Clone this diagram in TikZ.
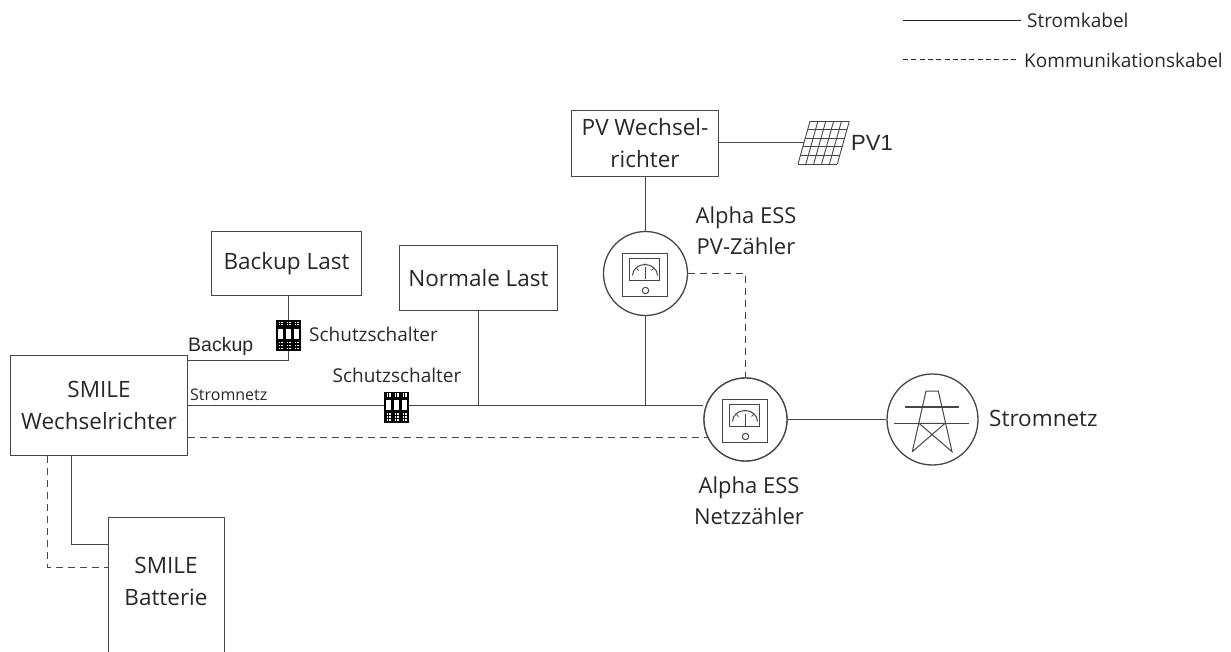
\documentclass[tikz,border=0pt]{standalone}
\usepackage{fontspec}
\setmainfont{Open Sans}
\newfontfamily\arialf{Liberation Sans}
\definecolor{ln}{RGB}{70,70,70}
\definecolor{tx}{RGB}{40,40,40}
\tikzset{
  x=1pt,y=-1pt,
  boxn/.style={draw=ln,line width=1.3pt,fill=white,inner sep=0pt,text=tx,align=center,font=\fontsize{22.5}{32}\selectfont},
  ringn/.style={draw=ln,line width=1.3pt,fill=white,circle,inner sep=0pt},
  lab/.style={text=tx,align=center,inner sep=0pt,font=\fontsize{22}{31}\selectfont},
  smalllab/.style={text=tx,inner sep=0pt,font=\fontsize{19}{22}\selectfont},
  tinylab/.style={text=tx,inner sep=0pt,font=\fontsize{16}{18}\selectfont},
  legendlab/.style={text=tx,inner sep=0pt,font=\fontsize{19}{22}\selectfont},
  wire/.style={draw=ln,line width=1.3pt},
  comm/.style={draw=ln,line width=1.3pt,dash pattern=on 7pt off 5pt},
  pics/meter/.style={code={
    \draw[ln,line width=1pt] (-23,-20) rectangle (22,23);
    \draw[ln,line width=1pt] (-16,-15) rectangle (14,7);
    \draw[ln,line width=1pt] (-13,2) arc[start angle=180,end angle=0,x radius=12.5,y radius=-11];
    \draw[ln,line width=.9pt] (-0.5,-6) -- (-0.5,6);
    \draw[ln,line width=.9pt] (-9,-5) -- (-7,-3) (8,-5) -- (6,-3) (-0.5,-10) -- (-0.5,-8);
    \draw[ln,line width=1pt] (0,17) circle[radius=3.2];
  }},
  pics/breaker/.style={code={
    \fill[black] (-12.5,-15.5) rectangle (12.5,15.5);
    \foreach \bx in {-8,0,8} {
      \fill[white] (\bx-2.4,-7) rectangle (\bx+2.4,3);
      \foreach \by in {-13,-11,7,10,13} \fill[white] (\bx-2,\by-.7) rectangle (\bx-.4,\by+.7);
      \foreach \by in {-13,-11,7,10,13} \fill[white] (\bx+.6,\by-.7) rectangle (\bx+2.2,\by+.7);
    }
  }}
}
\begin{document}
\begin{tikzpicture}
\useasboundingbox (0,0) rectangle (1231,652);
\fill[white] (0,0) rectangle (1231,652);
\coordinate (legAa) at (903,20.5);
\coordinate (legAb) at (1021,20.5);
\coordinate (legBa) at (903,59.5);
\coordinate (legBb) at (1019,59.5);
\coordinate (jn1) at (478.5,405.5);
\coordinate (jn2) at (645.5,405.5);
\node[boxn,minimum width=177pt,minimum height=100pt] (smile) at (99,405.5) {SMILE\\Wechselrichter};
\node[boxn,minimum width=150pt,minimum height=64pt] (backup) at (286.5,263.5) {Backup Last};
\node[boxn,minimum width=158pt,minimum height=65pt] (normal) at (478.5,278) {Normale Last};
\node[boxn,minimum width=147pt,minimum height=66pt] (pvinv) at (645,143.5) {PV Wechsel-\\richter};
\node[ringn,minimum size=84pt] (pvm) at (645.5,273.5) {};
\node[ringn,minimum size=83pt] (gm) at (745.5,419.5) {};
\node[ringn,minimum size=91pt] (grid) at (932.5,419.5) {};
\coordinate (panel) at (805,142.5);
\coordinate (brkA) at (288.5,335.5);
\coordinate (brkB) at (396.5,407);
\coordinate (bkp) at (288.5,360.5);
\draw[wire] (bkp |- backup.south) -- (bkp) -- (smile.east |- bkp);
\draw[wire] (smile.east |- jn1) -- (gm.west |- jn1);
\draw[wire] (normal.south) -- (jn1);
\draw[wire] (jn2 |- pvinv.south) -- (jn2 |- pvm.north);
\draw[wire] (pvm.south) -- (jn2);
\draw[wire] (pvinv.east |- panel) -- (panel);
\draw[wire] (gm.east) -- (grid.west);
\draw[comm] (pvm.east) -- (gm.north |- pvm.east) -- (gm.north);
\coordinate (cm) at (712,437.5);
\draw[comm] (smile.east |- cm) -- (cm);
\node[ringn,minimum size=83pt] at (gm) {};
\draw[wire,fill=white] (108.5,652) -- (108.5,517.5) -- (224.5,517.5) -- (224.5,652);
\coordinate (batA) at (108.5,544.5);
\coordinate (batB) at (108.5,567.5);
\draw[wire] (71.5,455.5) -- (71.5,544.5) -- (batA);
\draw[comm] (47.5,455.5) -- (47.5,567.5) -- (batB);
\node[text=tx,align=center,inner sep=0pt,font=\fontsize{22.5}{32}\selectfont] (battxt) at (166,581) {SMILE\\Batterie};
\pic at (pvm) {meter};
\pic at (gm) {meter};
\draw[ln,line width=1pt] (912.3,451.7) -- (926,391) -- (938.3,391) -- (952,451.7) -- (919,423.3) -- (945,423.3) -- (912.3,451.7);
\draw[ln,line width=1.3pt] (905.3,407) -- (959.3,407);
\draw[ln,line width=1pt] (894.3,423.3) -- (969.3,423.3);
\fill[white] (810,121.3) -- (849.3,121.3) -- (837.3,164) -- (798,164) -- cycle;
\foreach \t in {0,0.2,0.4,0.6,0.8,1}
  \draw[ln,line width=.9pt] ({810+39.3*\t},121.3) -- ({798+39.3*\t},164);
\foreach \t in {0,0.2,0.4,0.6,0.8,1}
  \draw[ln,line width=.9pt] ({810-12*\t},{121.3+42.7*\t}) -- ({849.3-12*\t},{121.3+42.7*\t});
\pic at (brkA) {breaker};
\pic at (brkB) {breaker};
\node[lab,anchor=west] (pvt) at (851,143) {\arialf\fontsize{22}{26}\selectfont PV1};
\node[lab] (t1) at (746,231) {Alpha ESS\\PV-Zähler};
\node[lab] (t2) at (749,501) {Alpha ESS\\Netzzähler};
\node[lab,anchor=west,font=\fontsize{22.5}{31}\selectfont] (t3) at (989,418) {Stromnetz};
\node[smalllab,anchor=west] (t4) at (309,334) {Schutzschalter};
\node[smalllab] (t5) at (397,375) {Schutzschalter};
\node[anchor=west,text=tx,inner sep=0pt,font=\arialf\fontsize{19.5}{22}\selectfont] (t6) at (188,346) {Backup};
\node[tinylab,anchor=west] (t7) at (190,395) {Stromnetz};
\draw[black!85,line width=1.8pt] (legAa) -- (legAb);
\draw[black!85,line width=1.5pt,dash pattern=on 5pt off 3.3pt] (legBa) -- (legBb);
\node[legendlab,anchor=west] (t8) at (1027,20) {Stromkabel};
\node[legendlab,anchor=west] (t9) at (1024,60) {Kommunikationskabel};
\end{tikzpicture}
\end{document}
